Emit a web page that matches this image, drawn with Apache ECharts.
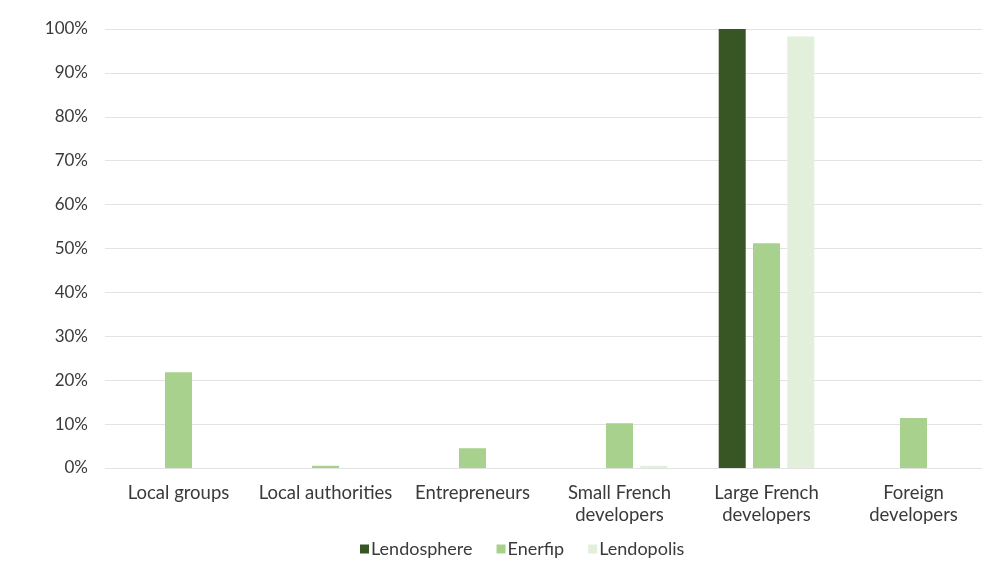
<!DOCTYPE html>
<html><head><meta charset="utf-8">
<script src="https://cdn.jsdelivr.net/npm/echarts@6/dist/echarts.min.js"></script>
<style>html,body{margin:0;padding:0;background:#fff;overflow:hidden}#c{width:992px;height:563px}</style>
</head><body><div id="c"></div>
<script>
var categories = ['Local groups', 'Local authorities', 'Entrepreneurs', 'Small French\ndevelopers', 'Large French\ndevelopers', 'Foreign\ndevelopers'];
var lendosphere = [0, 0, 0, 0, 100, 0];
var enerfip = [21.8, 0.5, 4.5, 10.2, 51.2, 11.4];
var lendopolis = [0, 0, 0, 0.5, 98.3, 0];
var yTicks = [0, 10, 20, 30, 40, 50, 60, 70, 80, 90, 100];

var chart = echarts.init(document.getElementById('c'));
var font = 'Lato, "Open Sans", sans-serif';
var txt = '#3a3a3a';
chart.setOption({
  animation: false,
  textStyle: {fontFamily: font},
  grid: {left: 105, right: 5, top: 29, bottom: 95},
  legend: {
    top: 535, left: 355, itemWidth: 9, itemHeight: 9, itemGap: 24,
    icon: 'rect',
    textStyle: {fontFamily: font, fontSize: 18, color: txt, padding: [0, 0, 0, -3]},
    data: ['Lendosphere', 'Enerfip', 'Lendopolis']
  },
  xAxis: {
    type: 'category', data: categories,
    axisLine: {show: false}, axisTick: {show: false},
    axisLabel: {fontFamily: font, fontSize: 18.5, color: txt, margin: 14, lineHeight: 22, interval: 0}
  },
  yAxis: {
    type: 'value', min: 0, max: 100, interval: 10,
    axisLabel: {fontFamily: font, fontSize: 17, color: txt, margin: 17,
      formatter: function (v) { return yTicks.indexOf(v) >= 0 ? v + '%' : ''; }},
    splitLine: {lineStyle: {color: '#e3e3e3', width: 1}},
    axisLine: {show: false}, axisTick: {show: false}
  },
  series: [
    {name: 'Lendosphere', type: 'bar', data: lendosphere, barWidth: 27, barGap: '27%', itemStyle: {color: '#375623'}},
    {name: 'Enerfip', type: 'bar', data: enerfip, barWidth: 27, itemStyle: {color: '#a9d18e'}},
    {name: 'Lendopolis', type: 'bar', data: lendopolis, barWidth: 27, itemStyle: {color: '#e2efda'}}
  ]
});
</script></body></html>
